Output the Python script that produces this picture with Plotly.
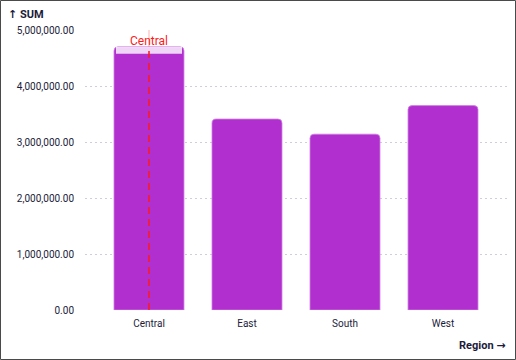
import plotly.graph_objects as go

regions = ["Central", "East", "South", "West"]
sums = [4700000, 3410000, 3140000, 3650000]
y_ticks = [0, 1000000, 2000000, 3000000, 4000000, 5000000]
highlight = "Central"

W, H = 516, 360
ML, MR, MT, MB = 85, 9, 30, 50
PW, PH = W - ML - MR, H - MT - MB

bar_color = "#B12ECF"
text_color = "#1c1c3a"
font_fam = "Roboto, Liberation Sans, Arial, sans-serif"
arrow_span = '<span style="font-family:DejaVu Sans">{}</span>'
bar_w = 0.714
pad = 0.153

fig = go.Figure()
fig.add_trace(go.Bar(
    x=regions, y=sums, width=bar_w,
    marker=dict(color=bar_color, cornerradius=4, line=dict(color="#cf7fe3", width=0.8)),
    hoverinfo="x+y",
))

hi = regions.index(highlight)
hv = sums[hi]
ymax = y_ticks[-1]
shapes = [
    dict(type="rect", xref="x", yref="y", x0=hi - bar_w / 2 + 0.02, x1=hi + bar_w / 2 - 0.02,
         y0=hv - ymax * 0.025, y1=hv, fillcolor="rgba(255,255,255,0.8)", line=dict(width=0), layer="above"),
    dict(type="line", xref="x", yref="y", x0=hi, x1=hi, y0=hv, y1=ymax,
         line=dict(color="rgba(255,0,0,0.2)", width=1.5), layer="above"),
    dict(type="line", xref="x", yref="y", x0=hi, x1=hi, y0=0, y1=hv,
         line=dict(color="#ff1a1a", width=1.5, dash="7px,5px"), layer="above"),
    dict(type="rect", xref="paper", yref="paper",
         x0=-(ML - 0.5) / PW, x1=1 + (MR - 0.5) / PW, y0=-(MB - 0.5) / PH, y1=1 + (MT - 0.5) / PH,
         line=dict(color="#4a4a4a", width=1), fillcolor="rgba(0,0,0,0)"),
]

annotations = [
    dict(x=hi, y=hv, xref="x", yref="y", text=highlight, showarrow=False,
         yanchor="bottom", yshift=-3, font=dict(color="#ff1a1a", size=12, family=font_fam)),
    dict(x=1 + 1 / PW, y=-(MB - 15) / PH, xref="paper", yref="paper",
         text="<b>Region " + arrow_span.format("→") + "</b>",
         showarrow=False, xanchor="right", yanchor="middle",
         font=dict(color=text_color, size=11, family=font_fam)),
    dict(x=-(ML - 6) / PW, y=1 + (MT - 15) / PH, xref="paper", yref="paper",
         text="<b>" + arrow_span.format("↑") + " SUM</b>",
         showarrow=False, xanchor="left", yanchor="middle",
         font=dict(color=text_color, size=11, family=font_fam)),
]

fig.update_layout(
    width=W, height=H,
    margin=dict(l=ML, r=MR, t=MT, b=MB),
    paper_bgcolor="white", plot_bgcolor="white",
    font=dict(family=font_fam, size=10, color=text_color),
    showlegend=False,
    shapes=shapes,
    annotations=annotations,
    xaxis=dict(range=[-0.5 - pad, len(regions) - 0.5 + pad], showgrid=False, zeroline=False,
               showline=False, ticks="", ticklabelstandoff=6, tickfont=dict(size=10, color=text_color)),
    yaxis=dict(range=[0, ymax], tickvals=y_ticks, tickformat=",.2f",
               showgrid=True, gridcolor="#cfcfdc", griddash="2px,3px", gridwidth=1,
               zeroline=False, showline=False, ticks="", ticklabelstandoff=10,
               tickfont=dict(size=10, color=text_color)),
)

fig.write_html("out.html", config={"displayModeBar": False},
               post_script="document.body.style.margin='0';document.body.style.overflow='hidden';")
